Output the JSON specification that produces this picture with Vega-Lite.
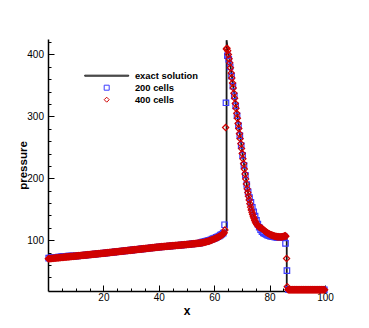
{
  "$schema": "https://vega.github.io/schema/vega-lite/v6.json",
  "width": 277,
  "height": 252,
  "autosize": {"type": "none"},
  "padding": {"left": 48, "top": 39, "right": 44, "bottom": 37},
  "background": "white",
  "config": {
    "view": {"stroke": null},
    "font": "Liberation Sans",
    "axis": {
      "grid": false,
      "domainColor": "black",
      "domainWidth": 1.5,
      "tickColor": "black",
      "tickWidth": 1,
      "labelColor": "black",
      "labelFont": "Liberation Sans",
      "labelFontSize": 10,
      "labelOverlap": false,
      "labelFlush": false,
      "titleColor": "black",
      "titleFont": "Liberation Sans",
      "titleFontWeight": "bold"
    }
  },
  "datasets": {
    "exact": [
      {"x":0,"p":70},{"x":10,"p":74.5},{"x":20,"p":79},{"x":30,"p":84},{"x":40,"p":89},{"x":50,"p":93},{"x":55,"p":95.5},{"x":56,"p":96.3},{"x":57,"p":97.3},{"x":58,"p":98.6},{"x":59,"p":100.2},{"x":60,"p":102},{"x":61,"p":104},{"x":62,"p":106.3},{"x":63,"p":109.3},{"x":63.8,"p":113},{"x":64.46,"p":117},
      {"x":64.47,"p":423},{"x":64.8,"p":412},{"x":65.4,"p":397},{"x":66,"p":377},{"x":67,"p":345},{"x":68,"p":313},{"x":69,"p":280},{"x":70,"p":248},{"x":71,"p":215},{"x":72,"p":182},{"x":73,"p":160},{"x":74,"p":144},{"x":75,"p":132},{"x":76,"p":123},{"x":77,"p":117},{"x":78,"p":113},{"x":79,"p":110.5},{"x":80,"p":108},{"x":81,"p":105.5},{"x":82,"p":103.5},{"x":83,"p":102.5},{"x":84,"p":102.2},{"x":85,"p":102.5},{"x":86.19,"p":103.5},
      {"x":86.2,"p":20},{"x":100,"p":20}
    ],
    "c200": [
      {"x":0.25,"p":71.1},{"x":0.75,"p":71.3},{"x":1.25,"p":71.6},{"x":1.75,"p":71.8},{"x":2.25,"p":72.0},{"x":2.75,"p":72.2},{"x":3.25,"p":72.5},{"x":3.75,"p":72.7},{"x":4.25,"p":72.9},{"x":4.75,"p":73.1},
      {"x":5.25,"p":73.4},{"x":5.75,"p":73.6},{"x":6.25,"p":73.8},{"x":6.75,"p":74.0},{"x":7.25,"p":74.3},{"x":7.75,"p":74.5},{"x":8.25,"p":74.3},{"x":8.75,"p":74.3},{"x":9.25,"p":74.4},{"x":9.75,"p":74.4},
      {"x":10.25,"p":74.6},{"x":10.75,"p":74.8},{"x":11.25,"p":75.1},{"x":11.75,"p":75.3},{"x":12.25,"p":75.5},{"x":12.75,"p":75.7},{"x":13.25,"p":76.0},{"x":13.75,"p":76.2},{"x":14.25,"p":76.4},{"x":14.75,"p":76.6},
      {"x":15.25,"p":76.9},{"x":15.75,"p":77.1},{"x":16.25,"p":77.3},{"x":16.75,"p":77.5},{"x":17.25,"p":77.8},{"x":17.75,"p":78.0},{"x":18.25,"p":78.2},{"x":18.75,"p":78.4},{"x":19.25,"p":78.7},{"x":19.75,"p":78.9},
      {"x":20.25,"p":79.1},{"x":20.75,"p":79.4},{"x":21.25,"p":79.6},{"x":21.75,"p":79.9},{"x":22.25,"p":80.1},{"x":22.75,"p":80.4},{"x":23.25,"p":80.6},{"x":23.75,"p":80.9},{"x":24.25,"p":81.1},{"x":24.75,"p":81.4},
      {"x":25.25,"p":81.6},{"x":25.75,"p":81.9},{"x":26.25,"p":82.1},{"x":26.75,"p":82.4},{"x":27.25,"p":82.6},{"x":27.75,"p":82.9},{"x":28.25,"p":83.1},{"x":28.75,"p":83.4},{"x":29.25,"p":83.6},{"x":29.75,"p":83.9},
      {"x":30.25,"p":84.1},{"x":30.75,"p":84.4},{"x":31.25,"p":84.6},{"x":31.75,"p":84.9},{"x":32.25,"p":85.1},{"x":32.75,"p":85.4},{"x":33.25,"p":85.6},{"x":33.75,"p":85.9},{"x":34.25,"p":86.1},{"x":34.75,"p":86.4},
      {"x":35.25,"p":86.6},{"x":35.75,"p":86.9},{"x":36.25,"p":87.1},{"x":36.75,"p":87.4},{"x":37.25,"p":87.6},{"x":37.75,"p":87.9},{"x":38.25,"p":88.1},{"x":38.75,"p":88.4},{"x":39.25,"p":88.6},{"x":39.75,"p":88.9},
      {"x":40.25,"p":89.1},{"x":40.75,"p":89.3},{"x":41.25,"p":89.5},{"x":41.75,"p":89.7},{"x":42.25,"p":89.9},{"x":42.75,"p":90.1},{"x":43.25,"p":90.3},{"x":43.75,"p":90.5},{"x":44.25,"p":90.7},{"x":44.75,"p":90.9},
      {"x":45.25,"p":91.1},{"x":45.75,"p":91.3},{"x":46.25,"p":91.5},{"x":46.75,"p":91.7},{"x":47.25,"p":91.9},{"x":47.75,"p":92.1},{"x":48.25,"p":92.3},{"x":48.75,"p":92.5},{"x":49.25,"p":92.7},{"x":49.75,"p":92.9},
      {"x":50.25,"p":93.1},{"x":50.75,"p":93.4},{"x":51.25,"p":93.6},{"x":51.75,"p":93.9},{"x":52.25,"p":94.1},{"x":52.75,"p":94.4},{"x":53.25,"p":94.6},{"x":53.75,"p":94.9},{"x":54.25,"p":95.1},{"x":54.75,"p":95.4},
      {"x":55.25,"p":96.2},{"x":55.75,"p":97.1},{"x":56.25,"p":97.6},{"x":56.75,"p":98.1},{"x":57.25,"p":98.6},{"x":57.75,"p":99.3},{"x":58.25,"p":100.0},{"x":58.75,"p":100.8},{"x":59.25,"p":101.7},{"x":59.75,"p":102.6},
      {"x":60.25,"p":103.5},{"x":60.75,"p":104.5},{"x":61.25,"p":105.6},{"x":61.75,"p":106.7},{"x":62.25,"p":108.1},{"x":62.75,"p":109.6},{"x":63.25,"p":111.5},{"x":63.75,"p":125},{"x":64.25,"p":322},{"x":64.75,"p":398},
      {"x":65.25,"p":392},{"x":65.75,"p":380},{"x":66.25,"p":365},{"x":66.75,"p":349},{"x":67.25,"p":333},{"x":67.75,"p":317},{"x":68.25,"p":301},{"x":68.75,"p":285},{"x":69.25,"p":269},{"x":69.75,"p":253},
      {"x":70.25,"p":237},{"x":70.75,"p":221},{"x":71.25,"p":205},{"x":71.75,"p":190},{"x":72.25,"p":178},{"x":72.75,"p":169},{"x":73.25,"p":161},{"x":73.75,"p":153},{"x":74.25,"p":146},{"x":74.75,"p":139},
      {"x":75.25,"p":132},{"x":75.75,"p":126},{"x":76.25,"p":121},{"x":76.75,"p":117},{"x":77.25,"p":114},{"x":77.75,"p":112},{"x":78.25,"p":110.5},{"x":78.75,"p":109.2},{"x":79.25,"p":108.2},{"x":79.75,"p":107.4},
      {"x":80.25,"p":106.7},{"x":80.75,"p":106.1},{"x":81.25,"p":105.6},{"x":81.75,"p":105.2},{"x":82.25,"p":104.9},{"x":82.75,"p":104.7},{"x":83.25,"p":104.6},{"x":83.75,"p":104.6},{"x":84.25,"p":104.8},{"x":84.75,"p":105.2},
      {"x":85.25,"p":106},{"x":85.75,"p":95},{"x":86.25,"p":51},{"x":86.75,"p":20.5},{"x":87.25,"p":20},{"x":87.75,"p":20},{"x":88.25,"p":20},{"x":88.75,"p":20},{"x":89.25,"p":20},{"x":89.75,"p":20},
      {"x":90.25,"p":20},{"x":90.75,"p":20},{"x":91.25,"p":20},{"x":91.75,"p":20},{"x":92.25,"p":20},{"x":92.75,"p":20},{"x":93.25,"p":20},{"x":93.75,"p":20},{"x":94.25,"p":20},{"x":94.75,"p":20},
      {"x":95.25,"p":20},{"x":95.75,"p":20},{"x":96.25,"p":20},{"x":96.75,"p":20},{"x":97.25,"p":20},{"x":97.75,"p":20},{"x":98.25,"p":20},{"x":98.75,"p":20},{"x":99.25,"p":20},{"x":99.75,"p":20}
    ],
    "c400": [
      {"x":0.125,"p":70.1},{"x":0.375,"p":70.2},{"x":0.625,"p":70.3},{"x":0.875,"p":70.4},{"x":1.125,"p":70.5},{"x":1.375,"p":70.6},{"x":1.625,"p":70.7},{"x":1.875,"p":70.8},
      {"x":2.125,"p":71.0},{"x":2.375,"p":71.1},{"x":2.625,"p":71.2},{"x":2.875,"p":71.3},{"x":3.125,"p":71.4},{"x":3.375,"p":71.5},{"x":3.625,"p":71.6},{"x":3.875,"p":71.7},
      {"x":4.125,"p":71.9},{"x":4.375,"p":72.0},{"x":4.625,"p":72.1},{"x":4.875,"p":72.2},{"x":5.125,"p":72.3},{"x":5.375,"p":72.4},{"x":5.625,"p":72.5},{"x":5.875,"p":72.6},
      {"x":6.125,"p":72.8},{"x":6.375,"p":72.9},{"x":6.625,"p":73.0},{"x":6.875,"p":73.1},{"x":7.125,"p":73.2},{"x":7.375,"p":73.3},{"x":7.625,"p":73.4},{"x":7.875,"p":73.5},
      {"x":8.125,"p":73.7},{"x":8.375,"p":73.8},{"x":8.625,"p":73.9},{"x":8.875,"p":74.0},{"x":9.125,"p":74.1},{"x":9.375,"p":74.2},{"x":9.625,"p":74.3},{"x":9.875,"p":74.4},
      {"x":10.125,"p":74.6},{"x":10.375,"p":74.7},{"x":10.625,"p":74.8},{"x":10.875,"p":74.9},{"x":11.125,"p":75.0},{"x":11.375,"p":75.1},{"x":11.625,"p":75.2},{"x":11.875,"p":75.3},
      {"x":12.125,"p":75.5},{"x":12.375,"p":75.6},{"x":12.625,"p":75.7},{"x":12.875,"p":75.8},{"x":13.125,"p":75.9},{"x":13.375,"p":76.0},{"x":13.625,"p":76.1},{"x":13.875,"p":76.2},
      {"x":14.125,"p":76.4},{"x":14.375,"p":76.5},{"x":14.625,"p":76.6},{"x":14.875,"p":76.7},{"x":15.125,"p":76.8},{"x":15.375,"p":76.9},{"x":15.625,"p":77.0},{"x":15.875,"p":77.1},
      {"x":16.125,"p":77.3},{"x":16.375,"p":77.4},{"x":16.625,"p":77.5},{"x":16.875,"p":77.6},{"x":17.125,"p":77.7},{"x":17.375,"p":77.8},{"x":17.625,"p":77.9},{"x":17.875,"p":78.0},
      {"x":18.125,"p":78.2},{"x":18.375,"p":78.3},{"x":18.625,"p":78.4},{"x":18.875,"p":78.5},{"x":19.125,"p":78.6},{"x":19.375,"p":78.7},{"x":19.625,"p":78.8},{"x":19.875,"p":78.9},
      {"x":20.125,"p":79.1},{"x":20.375,"p":79.2},{"x":20.625,"p":79.3},{"x":20.875,"p":79.4},{"x":21.125,"p":79.6},{"x":21.375,"p":79.7},{"x":21.625,"p":79.8},{"x":21.875,"p":79.9},
      {"x":22.125,"p":80.1},{"x":22.375,"p":80.2},{"x":22.625,"p":80.3},{"x":22.875,"p":80.4},{"x":23.125,"p":80.6},{"x":23.375,"p":80.7},{"x":23.625,"p":80.8},{"x":23.875,"p":80.9},
      {"x":24.125,"p":81.1},{"x":24.375,"p":81.2},{"x":24.625,"p":81.3},{"x":24.875,"p":81.4},{"x":25.125,"p":81.6},{"x":25.375,"p":81.7},{"x":25.625,"p":81.8},{"x":25.875,"p":81.9},
      {"x":26.125,"p":82.1},{"x":26.375,"p":82.2},{"x":26.625,"p":82.3},{"x":26.875,"p":82.4},{"x":27.125,"p":82.6},{"x":27.375,"p":82.7},{"x":27.625,"p":82.8},{"x":27.875,"p":82.9},
      {"x":28.125,"p":83.1},{"x":28.375,"p":83.2},{"x":28.625,"p":83.3},{"x":28.875,"p":83.4},{"x":29.125,"p":83.6},{"x":29.375,"p":83.7},{"x":29.625,"p":83.8},{"x":29.875,"p":83.9},
      {"x":30.125,"p":84.1},{"x":30.375,"p":84.2},{"x":30.625,"p":84.3},{"x":30.875,"p":84.4},{"x":31.125,"p":84.6},{"x":31.375,"p":84.7},{"x":31.625,"p":84.8},{"x":31.875,"p":84.9},
      {"x":32.125,"p":85.1},{"x":32.375,"p":85.2},{"x":32.625,"p":85.3},{"x":32.875,"p":85.4},{"x":33.125,"p":85.6},{"x":33.375,"p":85.7},{"x":33.625,"p":85.8},{"x":33.875,"p":85.9},
      {"x":34.125,"p":86.1},{"x":34.375,"p":86.2},{"x":34.625,"p":86.3},{"x":34.875,"p":86.4},{"x":35.125,"p":86.6},{"x":35.375,"p":86.7},{"x":35.625,"p":86.8},{"x":35.875,"p":86.9},
      {"x":36.125,"p":87.1},{"x":36.375,"p":87.2},{"x":36.625,"p":87.3},{"x":36.875,"p":87.4},{"x":37.125,"p":87.6},{"x":37.375,"p":87.7},{"x":37.625,"p":87.8},{"x":37.875,"p":87.9},
      {"x":38.125,"p":88.1},{"x":38.375,"p":88.2},{"x":38.625,"p":88.3},{"x":38.875,"p":88.4},{"x":39.125,"p":88.6},{"x":39.375,"p":88.7},{"x":39.625,"p":88.8},{"x":39.875,"p":88.9},
      {"x":40.125,"p":89.1},{"x":40.375,"p":89.2},{"x":40.625,"p":89.3},{"x":40.875,"p":89.4},{"x":41.125,"p":89.5},{"x":41.375,"p":89.6},{"x":41.625,"p":89.7},{"x":41.875,"p":89.8},
      {"x":42.125,"p":89.9},{"x":42.375,"p":90.0},{"x":42.625,"p":90.1},{"x":42.875,"p":90.2},{"x":43.125,"p":90.3},{"x":43.375,"p":90.4},{"x":43.625,"p":90.5},{"x":43.875,"p":90.6},
      {"x":44.125,"p":90.7},{"x":44.375,"p":90.8},{"x":44.625,"p":90.9},{"x":44.875,"p":91.0},{"x":45.125,"p":91.1},{"x":45.375,"p":91.2},{"x":45.625,"p":91.3},{"x":45.875,"p":91.4},
      {"x":46.125,"p":91.5},{"x":46.375,"p":91.6},{"x":46.625,"p":91.7},{"x":46.875,"p":91.8},{"x":47.125,"p":91.9},{"x":47.375,"p":92.0},{"x":47.625,"p":92.1},{"x":47.875,"p":92.2},
      {"x":48.125,"p":92.3},{"x":48.375,"p":92.4},{"x":48.625,"p":92.5},{"x":48.875,"p":92.6},{"x":49.125,"p":92.7},{"x":49.375,"p":92.8},{"x":49.625,"p":92.9},{"x":49.875,"p":93.0},
      {"x":50.125,"p":93.1},{"x":50.375,"p":93.2},{"x":50.625,"p":93.3},{"x":50.875,"p":93.4},{"x":51.125,"p":93.6},{"x":51.375,"p":93.7},{"x":51.625,"p":93.8},{"x":51.875,"p":93.9},
      {"x":52.125,"p":94.1},{"x":52.375,"p":94.2},{"x":52.625,"p":94.3},{"x":52.875,"p":94.4},{"x":53.125,"p":94.6},{"x":53.375,"p":94.7},{"x":53.625,"p":94.8},{"x":53.875,"p":94.9},
      {"x":54.125,"p":95.1},{"x":54.375,"p":95.2},{"x":54.625,"p":95.3},{"x":54.875,"p":95.4},{"x":55.125,"p":95.6},{"x":55.375,"p":95.8},{"x":55.625,"p":96.0},{"x":55.875,"p":96.2},
      {"x":56.125,"p":96.4},{"x":56.375,"p":96.6},{"x":56.625,"p":96.9},{"x":56.875,"p":97.2},{"x":57.125,"p":97.5},{"x":57.375,"p":97.8},{"x":57.625,"p":98.1},{"x":57.875,"p":98.4},
      {"x":58.125,"p":98.8},{"x":58.375,"p":99.2},{"x":58.625,"p":99.6},{"x":58.875,"p":100.0},{"x":59.125,"p":100.4},{"x":59.375,"p":100.9},{"x":59.625,"p":101.3},{"x":59.875,"p":101.8},
      {"x":60.125,"p":102.3},{"x":60.375,"p":102.8},{"x":60.625,"p":103.3},{"x":60.875,"p":103.8},{"x":61.125,"p":104.3},{"x":61.375,"p":104.9},{"x":61.625,"p":105.4},{"x":61.875,"p":106.0},
      {"x":62.125,"p":106.7},{"x":62.375,"p":107.4},{"x":62.625,"p":108.2},{"x":62.875,"p":108.9},{"x":63.125,"p":109.9},{"x":63.375,"p":110.9},{"x":63.625,"p":112.2},{"x":63.875,"p":116.5},
      {"x":64.125,"p":282},{"x":64.375,"p":409},{"x":64.625,"p":410},{"x":64.875,"p":406},{"x":65.125,"p":400},{"x":65.375,"p":393},{"x":65.625,"p":386.5},{"x":65.875,"p":378.5},
      {"x":66.125,"p":370},{"x":66.375,"p":362},{"x":66.625,"p":354},{"x":66.875,"p":346},{"x":67.125,"p":337.5},{"x":67.375,"p":329.5},{"x":67.625,"p":321},{"x":67.875,"p":313},
      {"x":68.125,"p":305},{"x":68.375,"p":297},{"x":68.625,"p":288.5},{"x":68.875,"p":280.5},{"x":69.125,"p":272},{"x":69.375,"p":264},{"x":69.625,"p":256},{"x":69.875,"p":248},
      {"x":70.125,"p":240},{"x":70.375,"p":231.5},{"x":70.625,"p":223.5},{"x":70.875,"p":215},{"x":71.125,"p":207},{"x":71.375,"p":199},{"x":71.625,"p":191},{"x":71.875,"p":183},
      {"x":72.125,"p":177},{"x":72.375,"p":171},{"x":72.625,"p":165},{"x":72.875,"p":159},{"x":73.125,"p":153.5},{"x":73.375,"p":149},{"x":73.625,"p":145},{"x":73.875,"p":141.5},
      {"x":74.125,"p":138},{"x":74.375,"p":135},{"x":74.625,"p":132},{"x":74.875,"p":129.5},{"x":75.125,"p":127.5},{"x":75.375,"p":125.5},{"x":75.625,"p":124},{"x":75.875,"p":122.8},
      {"x":76.125,"p":121.8},{"x":76.375,"p":121},{"x":76.625,"p":120.5},{"x":76.875,"p":120},{"x":77.125,"p":119.3},{"x":77.375,"p":118.5},{"x":77.625,"p":117.5},{"x":77.875,"p":116.5},
      {"x":78.125,"p":115.5},{"x":78.375,"p":114.5},{"x":78.625,"p":113.6},{"x":78.875,"p":112.8},{"x":79.125,"p":112},{"x":79.375,"p":111.3},{"x":79.625,"p":110.6},{"x":79.875,"p":110},
      {"x":80.125,"p":109.4},{"x":80.375,"p":108.9},{"x":80.625,"p":108.4},{"x":80.875,"p":108},{"x":81.125,"p":107.6},{"x":81.375,"p":107.2},{"x":81.625,"p":106.9},{"x":81.875,"p":106.6},
      {"x":82.125,"p":106.3},{"x":82.375,"p":106.1},{"x":82.625,"p":105.9},{"x":82.875,"p":105.7},{"x":83.125,"p":105.6},{"x":83.375,"p":105.5},{"x":83.625,"p":105.4},{"x":83.875,"p":105.4},
      {"x":84.125,"p":105.4},{"x":84.375,"p":105.5},{"x":84.625,"p":105.6},{"x":84.875,"p":105.8},{"x":85.125,"p":106.2},{"x":85.375,"p":106.8},{"x":85.625,"p":107.5},{"x":85.875,"p":106.5},
      {"x":86.125,"p":70.5},{"x":86.375,"p":25},{"x":86.625,"p":20.3},{"x":86.875,"p":20},{"x":87.125,"p":20},{"x":87.375,"p":20},{"x":87.625,"p":20},{"x":87.875,"p":20},
      {"x":88.125,"p":20},{"x":88.375,"p":20},{"x":88.625,"p":20},{"x":88.875,"p":20},{"x":89.125,"p":20},{"x":89.375,"p":20},{"x":89.625,"p":20},{"x":89.875,"p":20},
      {"x":90.125,"p":20},{"x":90.375,"p":20},{"x":90.625,"p":20},{"x":90.875,"p":20},{"x":91.125,"p":20},{"x":91.375,"p":20},{"x":91.625,"p":20},{"x":91.875,"p":20},
      {"x":92.125,"p":20},{"x":92.375,"p":20},{"x":92.625,"p":20},{"x":92.875,"p":20},{"x":93.125,"p":20},{"x":93.375,"p":20},{"x":93.625,"p":20},{"x":93.875,"p":20},
      {"x":94.125,"p":20},{"x":94.375,"p":20},{"x":94.625,"p":20},{"x":94.875,"p":20},{"x":95.125,"p":20},{"x":95.375,"p":20},{"x":95.625,"p":20},{"x":95.875,"p":20},
      {"x":96.125,"p":20},{"x":96.375,"p":20},{"x":96.625,"p":20},{"x":96.875,"p":20},{"x":97.125,"p":20},{"x":97.375,"p":20},{"x":97.625,"p":20},{"x":97.875,"p":20},
      {"x":98.125,"p":20},{"x":98.375,"p":20},{"x":98.625,"p":20},{"x":98.875,"p":20},{"x":99.125,"p":20},{"x":99.375,"p":20},{"x":99.625,"p":20},{"x":99.875,"p":20}
    ]
  },
  "encoding": {
    "x": {
      "field": "x", "type": "quantitative",
      "scale": {"domain": [0, 100], "nice": false, "zero": false},
      "axis": {
        "title": "x", "titleFontSize": 12, "titlePadding": 0,
        "values": [5,10,15,20,25,30,35,40,45,50,55,60,65,70,75,80,85,90,95,100],
        "labelExpr": "datum.value % 20 === 0 ? datum.label : ''",
        "tickSize": {"condition": {"test": "datum.value % 20 === 0", "value": -6}, "value": -3},
        "labelPadding": 7
      }
    },
    "y": {
      "field": "p", "type": "quantitative",
      "scale": {"domain": [18, 425], "nice": false, "zero": false},
      "axis": {
        "title": "pressure", "titleFontSize": 11.5, "titlePadding": -2,
        "values": [40,60,80,100,120,140,160,180,200,220,240,260,280,300,320,340,360,380,400,420],
        "labelExpr": "datum.value % 100 === 0 ? datum.label : ''",
        "tickSize": {"condition": {"test": "datum.value % 100 === 0", "value": -6}, "value": -3},
        "labelPadding": 10.5
      }
    }
  },
  "layer": [
    {
      "data": {"name": "exact"},
      "mark": {"type": "line", "color": "#1a1a1a", "strokeWidth": 1.8},
      "encoding": {}
    },
    {
      "data": {"name": "c200"},
      "mark": {"type": "point", "filled": false, "strokeWidth": 1.2, "size": 30, "opacity": 1},
      "encoding": {
        "color": {
          "datum": "200 cells", "type": "nominal",
          "scale": {"domain": ["exact solution", "200 cells", "400 cells"], "range": ["#1a1a1a", "#3c3cff", "#d00000"]},
          "legend": {
            "title": null, "orient": "none", "legendX": 54, "legendY": 32,
            "symbolSize": 25, "symbolStrokeWidth": 1, "symbolFillColor": "transparent",
            "labelFont": "Liberation Sans", "labelFontSize": 9.4, "labelFontWeight": "bold", "labelColor": "black",
            "labelOffset": 23.5, "rowPadding": 1, "labelLimit": 200
          }
        },
        "shape": {
          "datum": "200 cells", "type": "nominal",
          "scale": {"domain": ["exact solution", "200 cells", "400 cells"], "range": ["M-8.8,-0.2H8.8V0.2H-8.8Z", "square", "diamond"]}
        }
      }
    },
    {
      "data": {"name": "c400"},
      "mark": {"type": "point", "filled": false, "strokeWidth": 1.2, "size": 38, "opacity": 1},
      "encoding": {
        "color": {"datum": "400 cells", "type": "nominal"},
        "shape": {"datum": "400 cells", "type": "nominal"}
      }
    }
  ]
}
